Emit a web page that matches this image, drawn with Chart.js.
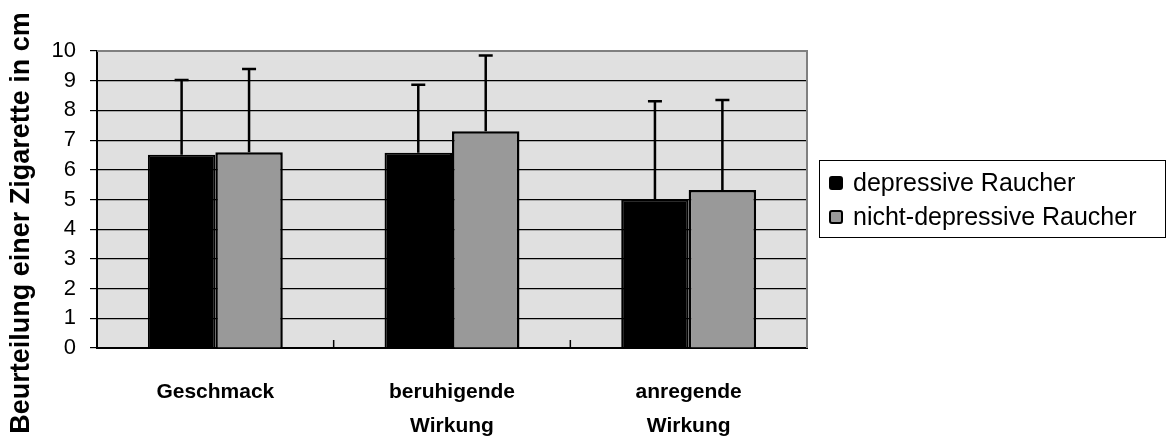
<!DOCTYPE html>
<html>
<head>
<meta charset="utf-8">
<script src="https://cdn.jsdelivr.net/npm/chart.js@4.4.1/dist/chart.umd.min.js"></script>
<style>
  html, body { margin: 0; padding: 0; background: #fff; }
  canvas { display: block; }
</style>
</head>
<body>
<canvas id="myChart" width="1168" height="443"></canvas>
<script>
// data
let categories = [['Geschmack'], ['beruhigende', 'Wirkung'], ['anregende', 'Wirkung']]
let depressive = [6.51, 6.57, 4.99]
let depressiveSd = [2.51, 2.29, 3.32]
let nichtDepressive = [6.59, 7.30, 5.32]
let nichtDepressiveSd = [2.80, 2.55, 3.03]
let yTicks = [0, 1, 2, 3, 4, 5, 6, 7, 8, 9, 10]
let yTitle = 'Beurteilung einer Zigarette in cm'

let fontFam = '"Liberation Sans", Arial, Helvetica, sans-serif'

// grey plot background
let plotBg = {
    id: 'plotBg',
    beforeDraw: chart => {
        let { ctx, chartArea: a } = chart
        ctx.save()
        ctx.fillStyle = '#e0e0e0'
        ctx.fillRect(a.left, a.top, a.right - a.left, a.bottom - a.top)
        ctx.restore()
    }
}

// only the upper half of the error bars is shown
let errorBars = {
    id: 'errorBars',
    afterDatasetsDraw: chart => {
        let ctx = chart.ctx
        let y = chart.scales.y
        chart.data.datasets.forEach((ds, i) => {
            let meta = chart.getDatasetMeta(i)
            meta.data.forEach((bar, j) => {
                let top = y.getPixelForValue(ds.data[j] + ds.sd[j])
                ctx.save()
                ctx.strokeStyle = '#000'
                ctx.lineWidth = 2.5
                ctx.beginPath()
                ctx.moveTo(bar.x, bar.y)
                ctx.lineTo(bar.x, top)
                ctx.moveTo(bar.x - 7, top)
                ctx.lineTo(bar.x + 7, top)
                ctx.stroke()
                ctx.restore()
            })
        })
    }
}

// frame, small inner ticks on the x axis, boxed legend, y title
let extras = {
    id: 'extras',
    afterDraw: chart => {
        let { ctx, chartArea: a } = chart
        let x = chart.scales.x
        ctx.save()
        ctx.strokeStyle = '#808080'
        ctx.lineWidth = 2
        ctx.beginPath()
        ctx.moveTo(a.left, a.top)
        ctx.lineTo(a.right, a.top)
        ctx.lineTo(a.right, a.bottom)
        ctx.stroke()

        ctx.strokeStyle = '#000'
        ctx.lineWidth = 1.5
        for (let i = 0; i < categories.length - 1; i++) {
            let px = (x.getPixelForTick(i) + x.getPixelForTick(i + 1)) / 2
            ctx.beginPath()
            ctx.moveTo(px, a.bottom)
            ctx.lineTo(px, a.bottom - 8)
            ctx.stroke()
        }

        // legend
        let lx = a.right + 12, ly = 160, lw = 346, lh = 77
        ctx.lineWidth = 1
        ctx.strokeStyle = '#000'
        ctx.strokeRect(lx + 0.5, ly + 0.5, lw, lh)
        ctx.font = '25px ' + fontFam
        ctx.textBaseline = 'middle'
        ctx.fillStyle = '#000'
        chart.data.datasets.forEach((ds, i) => {
            let cy = ly + 23 + i * 34
            ctx.beginPath()
            ctx.roundRect(lx + 11, cy - 6, 12, 12, 2)
            ctx.fillStyle = ds.backgroundColor
            ctx.fill()
            ctx.lineWidth = 2
            ctx.stroke()
            ctx.fillStyle = '#000'
            ctx.fillText(ds.label, lx + 34, cy + 1)
        })

        // y title
        ctx.translate(22, 223)
        ctx.rotate(-Math.PI / 2)
        ctx.font = 'bold 27px ' + fontFam
        ctx.textAlign = 'center'
        ctx.textBaseline = 'middle'
        ctx.fillText(yTitle, 0, 0)
        ctx.restore()
    }
}

let myChart = new Chart('myChart', {
    type: 'bar',
    data: {
        labels: categories,
        datasets: [{
            label: 'depressive Raucher',
            data: depressive,
            sd: depressiveSd,
            backgroundColor: '#000000',
            borderColor: '#000000',
            borderWidth: 2
        }, {
            label: 'nicht-depressive Raucher',
            data: nichtDepressive,
            sd: nichtDepressiveSd,
            backgroundColor: '#999999',
            borderColor: '#000000',
            borderWidth: 2.5
        }]
    },
    options: {
        responsive: false,
        animation: false,
        events: [],
        layout: { padding: { top: 51, right: 361, left: 0, bottom: 0 } },
        datasets: { bar: { categoryPercentage: 0.57, barPercentage: 1 } },
        plugins: {
            legend: { display: false },
            tooltip: { enabled: false }
        },
        scales: {
            x: {
                afterFit: s => { s.height = 95 },
                grid: { display: true, drawOnChartArea: false, drawTicks: false },
                border: { display: true, color: '#000', width: 2 },
                ticks: {
                    color: '#000',
                    padding: 27,
                    font: { family: fontFam, size: 21, weight: 'bold', lineHeight: 1.62 }
                }
            },
            y: {
                min: 0,
                max: 10,
                afterFit: s => { s.width = 97 },
                afterBuildTicks: s => { s.ticks = yTicks.map(v => ({ value: v })) },
                grid: {
                    color: c => c.tick && c.tick.value === 10 ? '#808080' : '#000',
                    tickColor: '#000',
                    lineWidth: 1.2,
                    tickLength: 7
                },
                border: { display: true, color: '#000', width: 2 },
                ticks: {
                    color: '#000',
                    padding: 14,
                    font: { family: fontFam, size: 22 }
                }
            }
        }
    },
    plugins: [plotBg, errorBars, extras]
})
</script>
</body>
</html>
